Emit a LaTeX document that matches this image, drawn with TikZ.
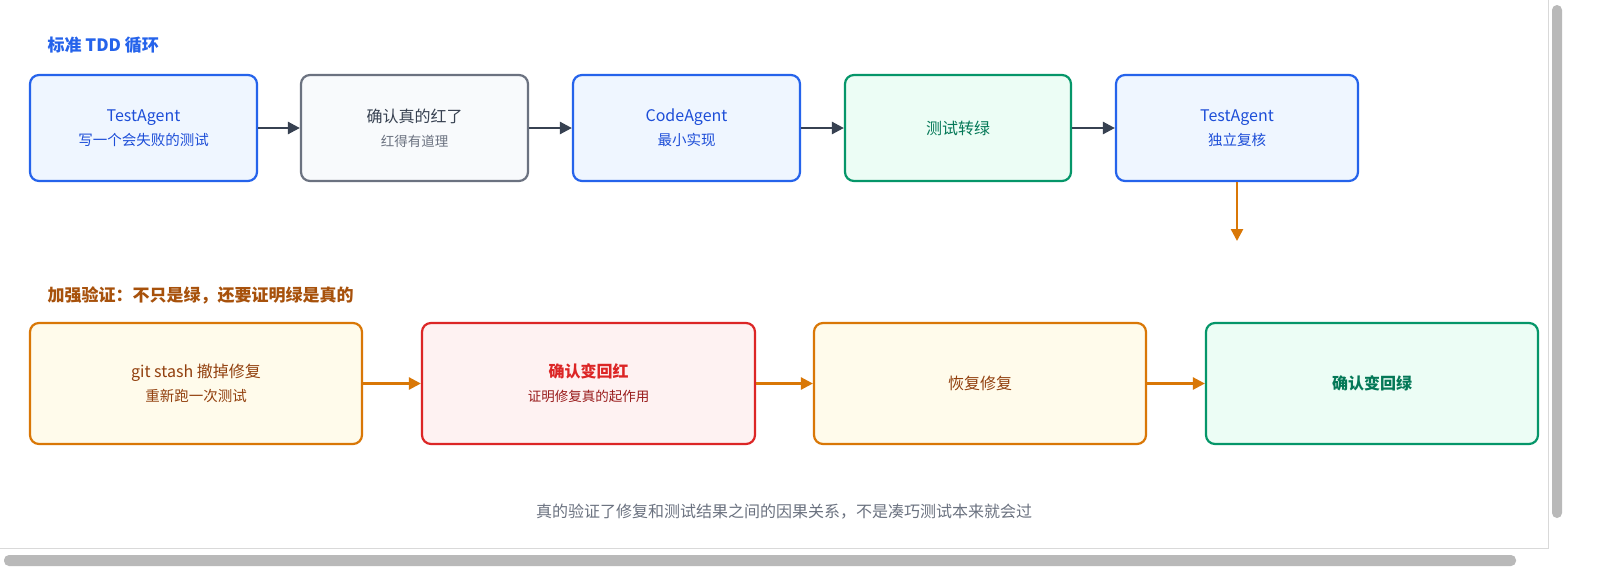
\documentclass[tikz,border=0pt]{standalone}
\usepackage{fontspec}
\setmainfont{Noto Sans CJK SC}
\usetikzlibrary{arrows.meta}
\definecolor{bB}{HTML}{2563EB}\definecolor{bF}{HTML}{EFF6FF}\definecolor{bT}{HTML}{1D4ED8}
\definecolor{gB}{HTML}{6B7280}\definecolor{gF}{HTML}{F8FAFC}\definecolor{gT}{HTML}{374151}
\definecolor{nB}{HTML}{059669}\definecolor{nF}{HTML}{ECFDF5}\definecolor{nT}{HTML}{047857}
\definecolor{oB}{HTML}{D97706}\definecolor{oF}{HTML}{FFFBEB}\definecolor{oT}{HTML}{92400E}
\definecolor{rB}{HTML}{DC2626}\definecolor{rF}{HTML}{FEF2F2}\definecolor{rT}{HTML}{991B1B}
\definecolor{ar}{HTML}{374151}
\newcommand\subf{\fontsize{13.5}{20}\selectfont}
\newcommand\subm{\fontsize{14.5}{20}\selectfont}
\begin{document}
\begin{tikzpicture}[x=1pt,y=-1pt,
 box/.style={draw,line width=2.2pt,rounded corners=9pt,align=center,inner sep=0pt,font=\fontsize{16}{24}\selectfont},
 arr/.style={-{Triangle[length=12pt,width=12pt]},line width=2.5pt,draw=ar},
 oarr/.style={arr,draw=oB}]
\fill[white] (0,0) rectangle (1600,584);
% scrollbars
\draw[gray!30] (1548,0) -- (1548,548) -- (0,548);
\fill[gray!55,rounded corners=5pt] (1552,5) rectangle (1562,518);
\fill[gray!55,rounded corners=5pt] (4,555) rectangle (1516,566);
\node[anchor=west,text=bB,font=\fontsize{17}{20}\selectfont\bfseries] (t1) at (44,45) {标准 TDD 循环};
\node[anchor=west,text=oT!70!oB,font=\fontsize{17}{20}\selectfont\bfseries] (t2) at (44,295) {加强验证：不只是绿，还要证明绿是真的};
% row1
\node[box,draw=bB,fill=bF,text=bT,minimum width=227pt,minimum height=106pt] (a) at (143.5,128) {TestAgent\\{\subm 写一个会失败的测试}};
\node[box,draw=gB,fill=gF,text=gT,minimum width=227pt,minimum height=106pt] (b) at (414.5,128) {确认真的红了\\{\subf\color{gB}红得有道理}};
\node[box,draw=bB,fill=bF,text=bT,minimum width=227pt,minimum height=106pt] (c) at (686.5,128) {CodeAgent\\{\subm 最小实现}};
\node[box,draw=nB,fill=nF,text=nT,minimum width=226pt,minimum height=106pt] (d) at (958,128) {测试转绿};
\node[box,draw=bB,fill=bF,text=bT,minimum width=242pt,minimum height=106pt] (e) at (1237,128) {TestAgent\\{\subm 独立复核}};
\draw[arr] (a) -- (b); \draw[arr] (b) -- (c); \draw[arr] (c) -- (d); \draw[arr] (d) -- (e);
\coordinate (down) at (1237,241);
\draw[oarr] (e) -- (down);
% row2
\node[box,draw=oB,fill=oF,text=oT,minimum width=332pt,minimum height=121pt] (f) at (196,383.5) {git stash 撤掉修复\\{\subm 重新跑一次测试}};
\node[box,draw=rB,fill=rF,text=rB,minimum width=333pt,minimum height=121pt] (g) at (588.5,383.5) {\bfseries 确认变回红\\{\subf\mdseries\color{rT}证明修复真的起作用}};
\node[box,draw=oB,fill=oF,text=oT,minimum width=332pt,minimum height=121pt] (h) at (980,383.5) {恢复修复};
\node[box,draw=nB,fill=nF,text=nT,minimum width=332pt,minimum height=121pt] (i) at (1372,383.5) {\bfseries 确认变回绿};
\draw[oarr] (f) -- (g); \draw[oarr] (g) -- (h); \draw[oarr] (h) -- (i);
\node[text=gB,font=\fontsize{16}{20}\selectfont] (ft) at (784,512) {真的验证了修复和测试结果之间的因果关系，不是凑巧测试本来就会过};
\pgfresetboundingbox
\useasboundingbox (0,0) rectangle (1600,584);
\end{tikzpicture}
\end{document}
